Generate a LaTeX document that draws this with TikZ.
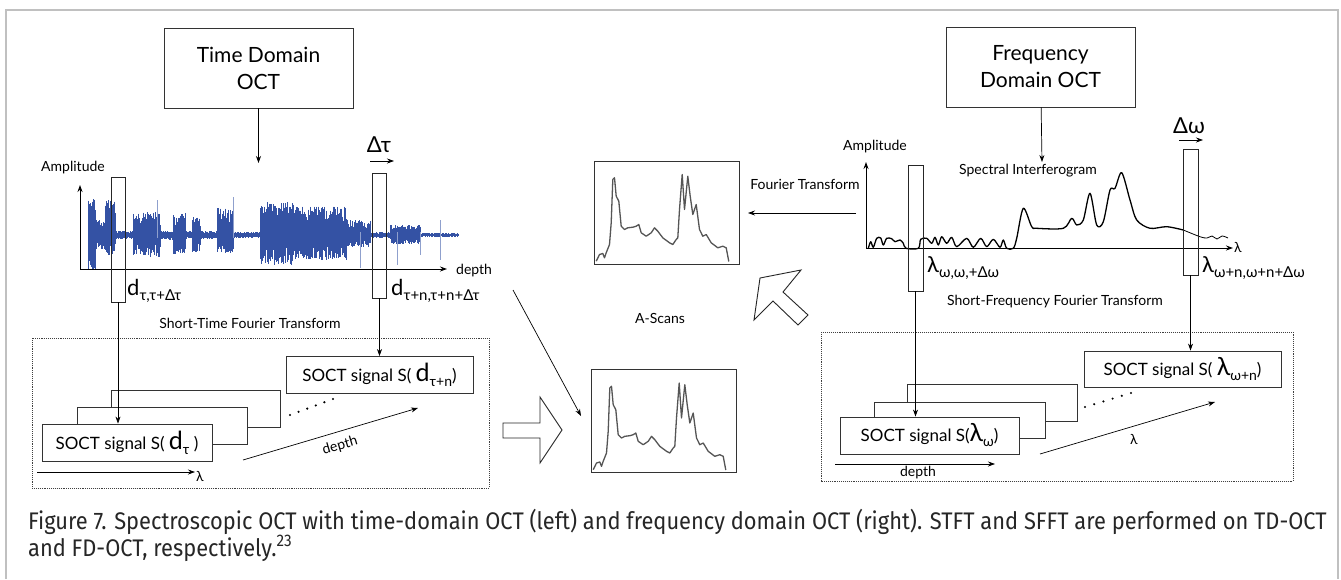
\documentclass[tikz,border=0pt]{standalone}
\usepackage{fontspec}
\setmainfont{Lato}
\newfontfamily\capfont[FakeStretch=0.91]{Fira Sans}
\usetikzlibrary{arrows.meta,calc}

\definecolor{wavecol}{RGB}{52,82,164}
\definecolor{framecol}{RGB}{192,192,192}
\definecolor{tracecol}{RGB}{85,85,85}

\newcommand{\winlab}[2]{{\fontsize{22}{22}\selectfont #1}\raisebox{-5pt}{\fontsize{15}{15}\selectfont #2}}
\newcommand{\siglab}[2]{{\fontsize{25}{25}\selectfont #1}\raisebox{-5pt}{\fontsize{14}{14}\selectfont #2}}

\begin{document}
\begin{tikzpicture}[x=1pt,y=-1pt,
  every node/.style={font=\fontsize{14}{16}\selectfont, inner sep=0pt},
  titlebox/.style={draw=black!80, line width=0.9pt, minimum width=189pt, minimum height=80pt,
    align=center, font=\fontsize{21}{27}\selectfont},
  window/.style={draw=black!85, line width=0.9pt, minimum width=14pt, minimum height=125pt},
  sigbox/.style={draw=black!80, line width=0.9pt, fill=white, minimum height=37pt,
    font=\fontsize{17}{17}\selectfont},
  ascan/.style={draw=black!80, line width=1pt, minimum width=145pt, minimum height=103pt},
  axis/.style={line width=1pt, -{Stealth[length=7pt,width=5pt]}},
  conn/.style={line width=0.7pt, -{Stealth[length=7pt,width=5pt]}},
  hollow/.style={draw=black!85, line width=0.9pt, fill=white, line join=miter},
  dotbox/.style={draw=black!75, line width=0.9pt, densely dotted},
  trace/.style={tracecol, line width=1.3pt, line join=round}]

  \useasboundingbox (0,0) rectangle (1341,579);
  \fill[white] (0,0) rectangle (1341,579);
  \draw[framecol, line width=1.2pt] (6,579) -- (6,10) -- (1338,10) -- (1338,579);

  % time domain side
  \node[titlebox] (tdbox) at (258.5,68) {Time Domain\\OCT};
  \coordinate (tdtip) at (258.5,163);
  \node (ampL) at (73,168) {Amplitude};
  \coordinate (oL) at (80,269);
  \coordinate (yL) at (80,185);
  \coordinate (xL) at (447,269);
  \node[anchor=west] (depthL) at (456,271) {depth};

  \pgfmathsetseed{7}
  \foreach \a/\b/\u/\d in {88/95/37/35, 95/105/15/15, 105/115/35/20, 115/133/4/4,
      133/160/23/22, 160/173/4/5, 173/185/22/20, 185/192/4/4, 192/200/18/18,
      200/217/4/4, 217/233/27/18, 233/260/3/3, 260/293/33/30, 293/347/29/25,
      347/370/15/12, 370/390/3/3, 390/420/10/9, 420/458/2/2}
    \foreach \x in {\a,\a.4,...,\b}
      \draw[wavecol, line width=0.6pt] (\x,{235-\u*(0.4+0.6*rnd)}) -- (\x,{235+\d*(0.4+0.6*rnd)});
  \foreach \x/\t/\b in {157/35/3, 233/38/3, 360/3/33, 397/3/30, 420/3/20, 440/15/25}
    \draw[wavecol!55, line width=0.6pt] (\x,235-\t) -- (\x,235+\b);

  \draw[axis] (oL) -- (yL);
  \draw[axis] (oL) -- (xL);

  \node[window] (winL) at (118,239.5) {};
  \node[window] (winR) at (379.5,235.5) {};
  \node (dtau) at (379,145) {\fontsize{22}{22}\selectfont Δτ};
  \coordinate (dtauA) at (370,161);
  \coordinate (dtauB) at (394,161);
  \node[anchor=base west] (labL) at (127,295) {\winlab{d}{τ,τ+Δτ}};
  \node[anchor=base west] (labR) at (391,295) {\winlab{d}{τ+n,τ+n+Δτ}};
  \node (stft) at (250,323) {Short-Time Fourier Transform};

  \draw[dotbox] (32,338) rectangle (489,488);
  \node[sigbox, minimum width=169pt] (sigL3) at (195.5,408.5) {};
  \node[sigbox, minimum width=170pt] (sigL2) at (162,426) {};
  \node[sigbox, minimum width=170pt] (sigL1) at (127,442.5) {SOCT signal S( \siglab{d}{τ} )};
  \node[sigbox, minimum width=187pt] (sigL4) at (379.5,375) {SOCT signal S( \siglab{d}{τ+n})};
  \coordinate (dotsLa) at (290,415);
  \coordinate (dotsLb) at (333,399);
  \foreach \i in {0,...,5}
    \fill ($(dotsLa)!\i/5!(dotsLb)$) circle (1.2pt);
  \coordinate (lamLa) at (37,472);
  \coordinate (lamLb) at (195,472);
  \node (lamL) at (200,476) {λ};
  \coordinate (depLa) at (243,460);
  \coordinate (depLb) at (418,408);
  \node[rotate=16.5] (depL) at (340,446) {depth};

  \draw[conn] (tdbox) -- (tdtip);
  \draw[conn] (dtauA) -- (dtauB);
  \draw[conn] (winL.south) -- (winL.south |- sigL1.north);
  \draw[conn] (winR.south) -- (winR.south |- sigL4.north);
  \draw[conn] (lamLa) -- (lamLb);
  \draw[conn] (depLa) -- (depLb);

  % a-scans
  \node[ascan] (ascanTop) at (666.5,212.5) {};
  \node[ascan] (ascanBot) at (663.5,421) {};
  \foreach \b in {ascanTop, ascanBot}
    \draw[trace, shift={(\b.north west)}] plot coordinates {(2.7,100.7) (6,94) (9.3,93)
      (11,97.3) (12.7,92.3) (16,84) (17.7,62.3) (19.3,19) (21,17.3) (22.7,35.7)
      (25.3,40.7) (27.7,65.7) (31,69) (34.3,67.3) (39.3,66.7) (42.7,65.7) (45.3,64)
      (47.7,72.3) (52.7,75.7) (57.7,72.3) (61,67.3) (64.3,70.7) (69.3,77.3) (76,82.3)
      (79.3,84) (82.7,79) (84.3,77.3) (86,49) (88.7,14) (91,49) (94.3,15.7) (96.7,35.7)
      (99.3,54) (102.7,44) (106,69) (109.3,75.7) (112.7,74) (117.7,82.3) (124.3,87.3)
      (129.3,85.7) (132.7,87.3) (135.3,101)};
  \node (ascans) at (660,318) {A-Scans};
  \node (ft) at (805,184) {Fourier Transform};
  \coordinate (ftA) at (856,213);
  \coordinate (ftB) at (748,213);
  \draw[conn] (ftA) -- (ftB);
  \coordinate (diagA) at (513,290);
  \coordinate (diagB) at (581,416);
  \draw[conn] (diagA) -- (diagB);
  \draw[hollow] (503,423) -- (540,423) -- (540,397) -- (562,430) -- (540,463)
    -- (540,438) -- (503,438) -- cycle;
  \draw[hollow] (760,278) -- (801,270) -- (783,292) -- (808,315) -- (798,325)
    -- (773,301) -- (754,320) -- cycle;

  % frequency domain side
  \node[titlebox] (fdbox) at (1040.5,67) {Frequency\\Domain OCT};
  \coordinate (fdtip) at (1042,162);
  \node (ampR) at (875,147) {Amplitude};
  \node (spec) at (1028,171) {Spectral Interferogram};
  \coordinate (oR) at (866,248);
  \coordinate (yR) at (866,162);
  \coordinate (xR) at (1233,248);
  \node (lamAx) at (1238,247) {λ};

  \draw[black, line width=1.3pt, line join=round] plot[smooth, tension=0.5] coordinates {
    (868.3,248.3) (870.7,241.7) (873.3,247.3) (876.7,238.3) (880.7,238) (883.3,245)
    (886.7,238.3) (891.7,238.7) (895,241.7) (900,240) (903.3,243.3) (906,248.3)
    (918.3,248.3) (920.7,239.3) (926.7,238.3) (931.7,243.3) (935,237.3) (938.3,245)
    (941.7,236.7) (946.7,243.3) (951.7,237.3) (956.7,246.7) (966.7,238.3) (973.3,247.3)
    (980.7,238.3) (986.7,246.7) (993.3,239.3) (1000,247.3) (1003.3,240) (1006.7,248.3)
    (1013.3,248.3) (1016.7,238.3) (1023.3,208.3) (1031.7,226.7) (1036.7,228.3) (1063.3,228.3)
    (1071.7,218.3) (1076.7,225) (1083.3,220) (1090,193.3) (1096.7,225) (1103.3,221.7)
    (1110,190) (1115,188.3) (1121.7,172.7) (1130,200) (1136.7,220) (1150,228.3)
    (1166.7,226.7) (1183.3,230)};
  \draw[black, line width=0.8pt, line join=round] plot[smooth, tension=0.55] coordinates {(1183.3,230)
    (1200,236.7) (1207,238) (1212,236) (1217,239) (1222,236) (1228,238)};

  \draw[axis] (oR) -- (yR);
  \draw[axis] (oR) -- (xR);

  \node[window, minimum width=15pt, minimum height=126pt] (winFL) at (915.5,228) {};
  \node[window, minimum width=15pt, minimum height=126pt] (winFR) at (1190.5,212) {};
  \node (domega) at (1189,126) {\fontsize{22}{22}\selectfont Δω};
  \coordinate (domA) at (1179,140);
  \coordinate (domB) at (1203,140);
  \node[anchor=base west] (labFL) at (927,272) {\winlab{λ}{ω,ω,+Δω}};
  \node[anchor=base west] (labFR) at (1202,272) {\winlab{λ}{ω+n,ω+n+Δω}};
  \node (sfft) at (1055,302) {Short-Frequency Fourier Transform};

  \draw[dotbox] (821,332) rectangle (1293,481);
  \node[sigbox, minimum width=170pt] (sigR3) at (992,402.5) {};
  \node[sigbox, minimum width=171pt, minimum height=36pt] (sigR2) at (959.5,420) {};
  \node[sigbox, minimum width=179pt] (sigR1) at (929.5,435.5) {SOCT signal S(\siglab{λ}{ω})};
  \node[sigbox, minimum width=197pt, minimum height=36pt] (sigR4) at (1182.5,369) {SOCT signal S( \siglab{λ}{ω+n})};
  \coordinate (dotsRa) at (1085,407);
  \coordinate (dotsRb) at (1131,393);
  \foreach \i in {0,...,5}
    \fill ($(dotsRa)!\i/5!(dotsRb)$) circle (1.2pt);
  \coordinate (depRa) at (835,464);
  \coordinate (depRb) at (995,464);
  \node (depR) at (918,473) {depth};
  \coordinate (lamRa) at (1040,454);
  \coordinate (lamRb) at (1215,402);
  \node (lamR) at (1134,439) {λ};

  \draw[conn] (fdbox) -- (fdtip);
  \draw[conn] (domA) -- (domB);
  \draw[conn] (winFL.south) -- (winFL.south |- sigR1.north);
  \draw[conn] (winFR.south) -- (winFR.south |- sigR4.north);
  \draw[conn] (depRa) -- (depRb);
  \draw[conn] (lamRa) -- (lamRb);

  % caption
  \node[anchor=base west, align=left, text=black!85, font=\capfont\fontsize{24}{27}\selectfont] (caption)
    at (28,556) {Figure 7. Spectroscopic OCT with time-domain OCT (left) and frequency domain OCT (right). STFT and SFFT are performed on TD-OCT\\
    and FD-OCT, respectively.\textsuperscript{23}};
\end{tikzpicture}
\end{document}
